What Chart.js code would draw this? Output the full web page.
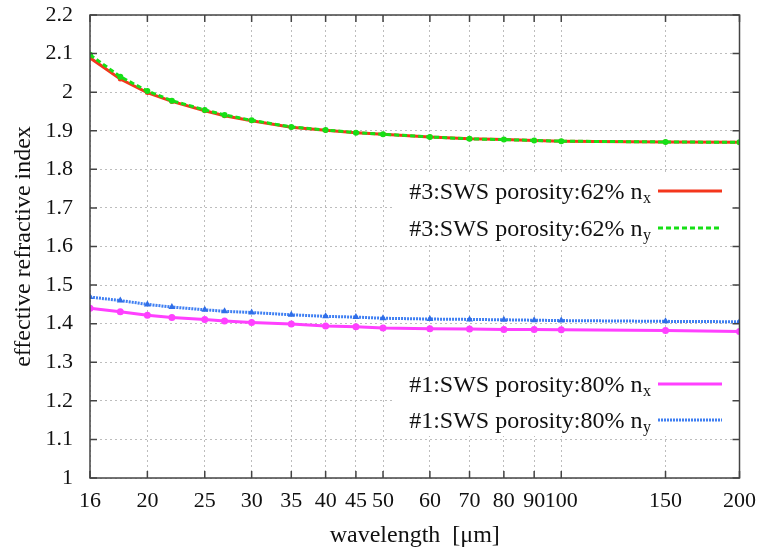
<!DOCTYPE html>
<html>
<head>
<meta charset="utf-8">
<script src="https://cdn.jsdelivr.net/npm/chart.js@4/dist/chart.umd.min.js"></script>
<style>
  html, body { margin: 0; padding: 0; background: #fff; }
  #wrap { width: 766px; height: 552px; }
</style>
</head>
<body>
<div id="wrap"><canvas id="c" width="766" height="552"></canvas></div>
<script>
// wavelengths in micrometres (x values of every sample)
const wavelengths = [16, 18, 20, 22, 25, 27, 30, 35, 40, 45, 50, 60, 70, 80, 90, 100, 150, 200];

// effective refractive index
const nx62 = [2.089, 2.034, 1.999, 1.976, 1.952, 1.939, 1.926, 1.909, 1.901, 1.895, 1.891, 1.884, 1.879, 1.877, 1.875, 1.873, 1.871, 1.870];
const ny62 = [2.097, 2.040, 2.003, 1.978, 1.954, 1.941, 1.927, 1.910, 1.902, 1.895, 1.891, 1.884, 1.879, 1.877, 1.875, 1.873, 1.871, 1.870];
const nx80 = [1.440, 1.431, 1.422, 1.416, 1.411, 1.407, 1.403, 1.399, 1.394, 1.392, 1.389, 1.387, 1.386, 1.385, 1.385, 1.384, 1.382, 1.380];
const ny80 = [1.469, 1.460, 1.450, 1.443, 1.436, 1.432, 1.429, 1.423, 1.419, 1.417, 1.414, 1.412, 1.411, 1.410, 1.409, 1.408, 1.406, 1.405];

// legend text, main part + subscript
const seriesNames = ['#3:SWS porosity:62% n', '#3:SWS porosity:62% n', '#1:SWS porosity:80% n', '#1:SWS porosity:80% n'];
const seriesSubs = ['x', 'y', 'x', 'y'];

const xTicks = [16, 20, 25, 30, 35, 40, 45, 50, 60, 70, 80, 90, 100, 150, 200];
const yMin = 1, yMax = 2.2, yStep = 0.1;

const serif = "'Liberation Serif', 'DejaVu Serif', serif";

const pts = arr => arr.map((v, i) => ({ x: wavelengths[i], y: v }));

const datasets = [
    { data: pts(nx62), borderColor: '#f4361c', backgroundColor: '#f4361c', borderWidth: 3,
      pointRadius: 2.5, pointStyle: 'circle', order: 3 },
    { data: pts(ny62), borderColor: '#16e016', backgroundColor: '#16e016', borderWidth: 3,
      borderDash: [5, 3], pointRadius: 3, pointStyle: 'circle', order: 2 },
    { data: pts(nx80), borderColor: '#ff40ff', backgroundColor: '#ff40ff', borderWidth: 3,
      pointRadius: 3.5, pointStyle: 'circle', order: 1 },
    { data: pts(ny80), borderColor: '#3f7ff2', backgroundColor: '#2f6ee8', borderWidth: 3,
      borderDash: [2, 1], pointRadius: 4, pointStyle: 'triangle', order: 0 }
];
datasets.forEach((d, i) => { d.label = seriesNames[i] + seriesSubs[i]; d.pointBorderWidth = 0; d.tension = 0; });

// legend rows: y of the sample line, one box per group
const legendRows = [191, 228, 384, 420];
const legendBoxes = [[395, 175, 340, 69], [395, 366, 340, 70]];

const frame = {
    id: 'frame',
    afterDatasetsDraw(chart) {
        const { ctx, chartArea: a, scales: { x, y } } = chart;
        ctx.save();
        // legend background
        ctx.fillStyle = '#fff';
        legendBoxes.forEach(b => ctx.fillRect(b[0], b[1], b[2], b[3]));
        // legend entries
        ctx.textBaseline = 'alphabetic';
        legendRows.forEach((ly, i) => {
            const d = chart.data.datasets[i];
            ctx.font = '16px ' + serif;
            const subW = ctx.measureText(seriesSubs[i]).width;
            const subX = 651 - subW;
            ctx.fillStyle = '#111';
            ctx.textAlign = 'left';
            ctx.fillText(seriesSubs[i], subX, ly + 12);
            ctx.font = '24px ' + serif;
            ctx.textAlign = 'right';
            ctx.fillText(seriesNames[i], subX - 0.5, ly + 7.5);
            ctx.strokeStyle = d.borderColor;
            ctx.lineWidth = d.borderWidth;
            ctx.setLineDash(d.borderDash || []);
            ctx.beginPath();
            ctx.moveTo(658, ly);
            ctx.lineTo(722, ly);
            ctx.stroke();
        });
        ctx.setLineDash([]);
        // border box and inward ticks
        ctx.strokeStyle = '#444';
        ctx.lineWidth = 1.5;
        ctx.strokeRect(a.left, a.top, a.right - a.left, a.bottom - a.top);
        ctx.beginPath();
        xTicks.forEach(v => {
            const px = x.getPixelForValue(v);
            ctx.moveTo(px, a.bottom); ctx.lineTo(px, a.bottom - 7);
            ctx.moveTo(px, a.top); ctx.lineTo(px, a.top + 7);
        });
        y.ticks.forEach(t => {
            const py = y.getPixelForValue(t.value);
            ctx.moveTo(a.left, py); ctx.lineTo(a.left + 7, py);
            ctx.moveTo(a.right, py); ctx.lineTo(a.right - 7, py);
        });
        ctx.stroke();
        ctx.restore();
    }
};

new Chart(document.getElementById('c'), {
    type: 'line',
    data: { datasets },
    options: {
        responsive: false,
        animation: false,
        devicePixelRatio: 1,
        layout: { padding: { top: 0, right: 24, left: 0, bottom: 0 } },
        plugins: { legend: { display: false }, tooltip: { enabled: false } },
        scales: {
            x: {
                type: 'logarithmic',
                min: 16,
                max: 200,
                afterBuildTicks: s => { s.ticks = xTicks.map(v => ({ value: v })); },
                afterFit: s => { s.height = 74; },
                ticks: {
                    autoSkip: false, maxRotation: 0, padding: 10,
                    color: '#111', font: { family: serif, size: 22 },
                    callback: v => String(v)
                },
                grid: { color: '#bdbdbd', lineWidth: 1, drawTicks: false },
                border: { display: false, dash: [2, 3] },
                title: {
                    display: true, text: 'wavelength  [\u03bcm]', color: '#111',
                    font: { family: serif, size: 24 }, padding: { top: 0, bottom: 2 }
                }
            },
            y: {
                min: yMin,
                max: yMax,
                afterFit: s => { s.width = 90; s.paddingTop = 15; s.paddingBottom = 0; },
                ticks: {
                    stepSize: yStep, padding: 17,
                    color: '#111', font: { family: serif, size: 22 },
                    callback: v => String(parseFloat(v.toFixed(1)))
                },
                grid: { color: '#bdbdbd', lineWidth: 1, drawTicks: false },
                border: { display: false, dash: [2, 3] },
                title: {
                    display: true, text: 'effective refractive index', color: '#111',
                    font: { family: serif, size: 24 }, padding: { top: 9, bottom: 0 }
                }
            }
        }
    },
    plugins: [frame]
});
</script>
</body>
</html>
